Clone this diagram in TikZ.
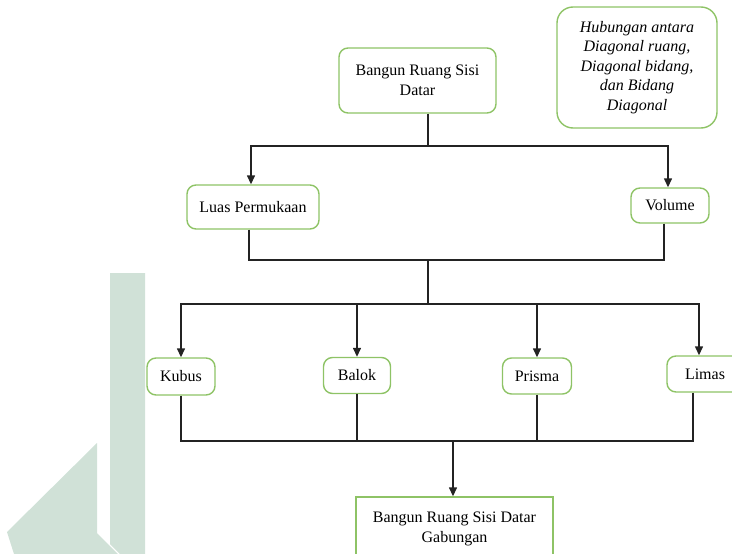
\documentclass[tikz,border=0pt]{standalone}
\usepackage{fontspec}
\usepackage{tikz}
\usepackage{xcolor}
\usetikzlibrary{calc,arrows.meta}
\setmainfont{Liberation Serif}
\definecolor{boxgreen}{RGB}{142,195,102}
\definecolor{linegray}{RGB}{35,35,35}
\definecolor{markfill}{RGB}{208,225,215}
\tikzset{
  box/.style={draw=boxgreen, line width=1.4pt, rounded corners=9pt, align=center,
    inner sep=2pt, font=\fontsize{16}{20}\selectfont},
  conn/.style={draw=linegray, line width=1.4pt},
  arr/.style={conn, -{Triangle[width=8pt,length=9pt]}}
}

\begin{document}
\begin{tikzpicture}[x=1pt, y=-1pt]
            \clip (0,0) rectangle (732,554);
            % watermark
            \fill[markfill] (110,273) -- (145,273) -- (145,554) -- (120,554) -- (110,544) -- cycle;
            \fill[markfill] (97,443) -- (97,533) -- (118,554) -- (14,554) -- (7,532) -- cycle;
            % nodes
            \node[box, minimum width=157pt, minimum height=65pt] (top) at (417.5,80.5) {Bangun Ruang Sisi\\Datar};
            \node[box, rounded corners=16pt, minimum width=160pt, minimum height=121pt,
              font=\fontsize{16}{19.5}\selectfont\itshape] (hub) at (637,67.5)
              {Hubungan antara\\Diagonal ruang,\\Diagonal bidang,\\dan Bidang\\Diagonal};
            \node[box, minimum width=132pt, minimum height=44pt] (luas) at (253,207) {Luas Permukaan};
            \node[box, minimum width=78pt, minimum height=35pt] (volume) at (670,205.5) {Volume};
            \node[box, minimum width=68pt, minimum height=37pt] (kubus) at (181,376.5) {Kubus};
            \node[box, minimum width=67pt, minimum height=36pt] (balok) at (357,375.5) {Balok};
            \node[box, minimum width=69pt, minimum height=36pt] (prisma) at (537,376) {Prisma};
            \node[box, minimum width=76pt, minimum height=36pt] (limas) at (705,374) {Limas};
            \node[box, rounded corners=0pt, minimum width=197pt, minimum height=64pt] (gab) at (454.5,529)
              {Bangun Ruang Sisi Datar\\Gabungan};
            % coordinates
            \coordinate (split1) at (428,146);
            \coordinate (merge1) at (428,260);
            \coordinate (split2) at (428,304);
            \coordinate (merge2) at (453,441);
            % top -> luas / volume
            \draw[conn] (top.south -| split1) -- (split1);
            \draw[arr] (split1) -| ([xshift=-2pt]luas.north);
            \draw[arr] (split1) -| ([xshift=-2pt]volume.north);
            % luas / volume -> shapes
            \draw[conn] ([xshift=-4pt]luas.south) |- (merge1);
            \draw[conn] ([xshift=-6pt]volume.south) |- (merge1);
            \draw[conn] (merge1) -- (split2);
            \draw[arr] (split2) -| (kubus.north);
            \draw[arr] (split2) -| (balok.north);
            \draw[arr] (split2) -| (prisma.north);
            \draw[arr] (split2) -| ([xshift=-6pt]limas.north);
            % shapes -> gabungan
            \draw[conn] (kubus.south) |- (merge2);
            \draw[conn] (balok.south) -- (balok.south |- merge2);
            \draw[conn] (prisma.south) -- (prisma.south |- merge2);
            \draw[conn] ([xshift=-12pt]limas.south) |- (merge2);
            \draw[arr] (merge2) -- (merge2 |- gab.north);
\end{tikzpicture}
\end{document}
